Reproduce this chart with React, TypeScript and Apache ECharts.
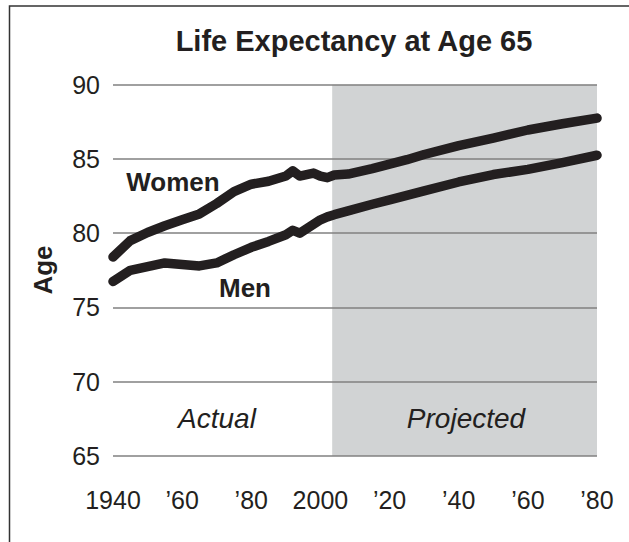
import React, { useEffect, useRef } from "react";
import * as echarts from "echarts";

const years = [1940, 1945, 1950, 1955, 1960, 1965, 1970, 1975, 1980, 1985, 1990, 1992, 1994, 1996, 1998, 2000, 2002, 2004, 2008, 2015, 2020, 2025, 2030, 2040, 2050, 2060, 2070, 2080];
const women = [78.4, 79.5, 80.05, 80.5, 80.9, 81.3, 82.0, 82.8, 83.3, 83.5, 83.85, 84.2, 83.85, 83.95, 84.05, 83.85, 83.74, 83.92, 83.98, 84.35, 84.65, 84.95, 85.3, 85.9, 86.4, 86.95, 87.37, 87.75];
const men = [76.75, 77.5, 77.75, 78.0, 77.9, 77.8, 78.0, 78.55, 79.05, 79.45, 79.9, 80.2, 80.0, 80.3, 80.6, 80.9, 81.1, 81.25, 81.5, 81.95, 82.25, 82.55, 82.85, 83.45, 83.95, 84.3, 84.75, 85.25];
const projectedStart = 2003.4;
const projectedEnd = 2080;
const xTickLabels: Record<number, string> = {
  1940: "1940", 1960: "\u201960", 1980: "\u201980", 2000: "2000",
  2020: "\u201920", 2040: "\u201940", 2060: "\u201960", 2080: "\u201980",
};

const FONT = "'Liberation Sans', Arial, Helvetica, sans-serif";
const INK = "#231f20";

export default function App() {
  const ref = useRef<HTMLDivElement>(null);
  useEffect(() => {
    if (!ref.current) return;
    const chart = echarts.init(ref.current, undefined, { renderer: "svg" });
    const lineStyle = { color: INK, width: 9.5, cap: "round", join: "round" };
    chart.setOption({
      animation: false,
      backgroundColor: "#ffffff",
      grid: { left: 113, right: 32, top: 84.7, bottom: 86 },
      xAxis: {
        type: "value",
        min: 1940,
        max: 2080,
        interval: 20,
        axisLine: { show: false },
        axisTick: { show: false },
        splitLine: { show: false },
        axisLabel: {
          margin: 31,
          fontSize: 25,
          fontFamily: FONT,
          color: INK,
          formatter: (v: number) => xTickLabels[v] ?? "",
        },
      },
      yAxis: {
        type: "value",
        min: 65,
        max: 90,
        interval: 5,
        z: 1.5,
        axisLine: { show: false },
        axisTick: { show: false },
        splitLine: { show: true, lineStyle: { color: "#808080", width: 1.5 } },
        axisLabel: { margin: 13, fontSize: 25, fontFamily: FONT, color: INK },
      },
      series: [
        {
          type: "line",
          data: [],
          z: 1,
          silent: true,
          markArea: {
            z: 1,
            silent: true,
            itemStyle: { color: "#d1d3d4" },
            data: [[{ xAxis: projectedStart }, { xAxis: projectedEnd }]],
          },
        },
        {
          name: "Women",
          type: "line",
          z: 3,
          showSymbol: false,
          symbol: "none",
          lineStyle,
          data: years.map((y, i) => [y, women[i]]),
        },
        {
          name: "Men",
          type: "line",
          z: 3,
          showSymbol: false,
          symbol: "none",
          lineStyle,
          data: years.map((y, i) => [y, men[i]]),
        },
      ],
      graphic: [
        {
          type: "rect",
          silent: true,
          shape: { x: 9.5, y: 6, width: 660, height: 580 },
          style: { fill: "none", stroke: "#333333", lineWidth: 1.5 },
        },
        {
          type: "text",
          x: 354,
          y: 41,
          style: { text: "Life Expectancy at Age 65", font: `bold 29px ${FONT}`, fill: INK, align: "center", verticalAlign: "middle" },
        },
        {
          type: "text",
          x: 43,
          y: 270,
          rotation: Math.PI / 2,
          style: { text: "Age", font: `bold 26px ${FONT}`, fill: INK, align: "center", verticalAlign: "middle" },
        },
        {
          type: "text",
          x: 173,
          y: 182,
          z: 10,
          style: { text: "Women", font: `bold 26px ${FONT}`, fill: INK, align: "center", verticalAlign: "middle" },
        },
        {
          type: "text",
          x: 245,
          y: 288,
          z: 10,
          style: { text: "Men", font: `bold 26px ${FONT}`, fill: INK, align: "center", verticalAlign: "middle" },
        },
        {
          type: "text",
          x: 217,
          y: 418,
          z: 10,
          style: { text: "Actual", font: `italic 28px ${FONT}`, fill: INK, align: "center", verticalAlign: "middle" },
        },
        {
          type: "text",
          x: 466,
          y: 418,
          z: 10,
          style: { text: "Projected", font: `italic 28px ${FONT}`, fill: INK, align: "center", verticalAlign: "middle" },
        },
      ],
    });
    return () => chart.dispose();
  }, []);
  return <div ref={ref} style={{ position: "absolute", left: 0, top: 0, width: 629, height: 542 }} />;
}
